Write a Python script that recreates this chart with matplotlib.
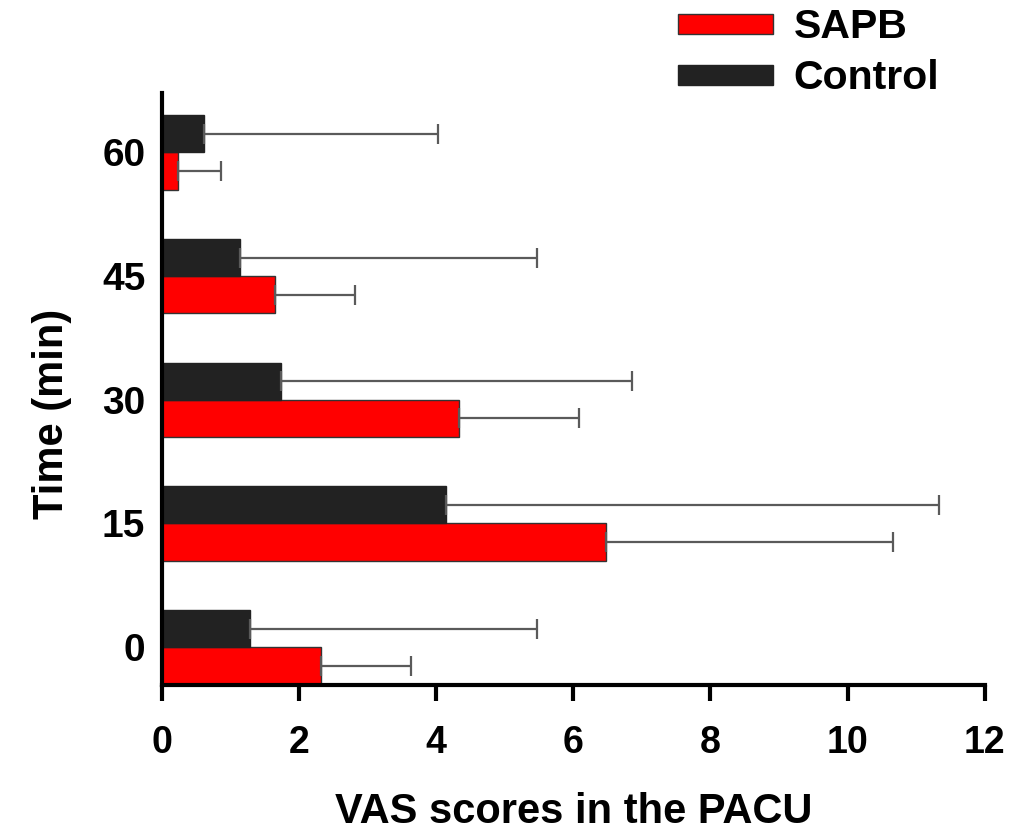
import matplotlib.pyplot as plt
import numpy as np

plt.rcParams['font.family'] = ['Liberation Sans', 'DejaVu Sans']
plt.rcParams['font.weight'] = 'bold'

# VAS scores at each time point (mean and SD)
times = ['0', '15', '30', '45', '60']
sapb_mean = [2.32, 6.48, 4.33, 1.65, 0.23]
sapb_sd = [1.32, 4.18, 1.75, 1.17, 0.63]
control_mean = [1.29, 4.14, 1.74, 1.14, 0.61]
control_sd = [4.18, 7.19, 5.12, 4.33, 3.41]

y = np.arange(len(times)) * 15
h = 4.5

fig = plt.figure(figsize=(10.12, 8.36), dpi=100)
ax = fig.add_axes([0.160, 0.1806, 0.813, 0.708])

err_kw = dict(ecolor='#5a5a5a', elinewidth=1.6, capsize=7, capthick=1.6)
ax.barh(y - h / 2, sapb_mean, height=h, color='#ff0000', edgecolor='#333333',
        linewidth=1, label='SAPB',
        xerr=[np.zeros(len(times)), sapb_sd], error_kw=err_kw)
ax.barh(y + h / 2, control_mean, height=h, color='#222222', edgecolor='#222222',
        linewidth=1, label='Control',
        xerr=[np.zeros(len(times)), control_sd], error_kw=err_kw)

ax.set_xlim(0, 12)
ax.set_ylim(-4.6, 67.2)
ax.set_xticks(range(0, 13, 2))
ax.set_yticks(y)
ax.set_yticklabels(times)

for s in ['top', 'right']:
    ax.spines[s].set_visible(False)
for s in ['left', 'bottom']:
    ax.spines[s].set_linewidth(3)
ax.tick_params(axis='x', length=11.5, width=3, direction='out', labelsize=27, pad=17)
ax.tick_params(axis='y', length=0, labelsize=28, pad=12)

ax.set_xlabel('VAS scores in the PACU', fontsize=30, fontweight='bold')
ax.xaxis.set_label_coords(0.5, -0.18)
ax.set_ylabel('Time (min)', fontsize=30, fontweight='bold')
ax.yaxis.set_label_coords(-0.109, 0.458)

ax.legend(loc='upper left', bbox_to_anchor=(678 / 1012, 0.99), bbox_transform=fig.transFigure,
          frameon=False, fontsize=29.5, handlelength=2.32, handleheight=0.37,
          labelspacing=0.32, handletextpad=0.5, borderpad=0, borderaxespad=0)

fig.savefig('out.png', dpi=100)
